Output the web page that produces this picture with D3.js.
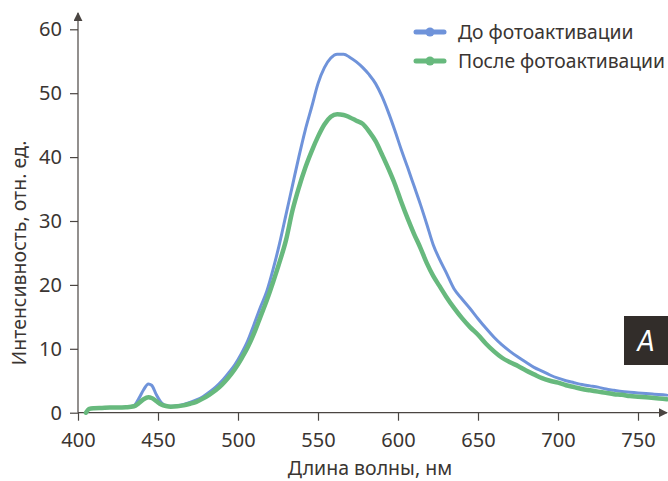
<!DOCTYPE html>
<html>
<head>
<meta charset="utf-8">
<script src="https://cdn.jsdelivr.net/npm/d3@7"></script>
<style>
  body { margin: 0; background: #fff; }
  #chart text { font-family: "Noto Sans", "Open Sans", sans-serif; fill: #3a3532; }
</style>
</head>
<body>
<div id="diagram"></div>
<script>
// wavelength, nm
var wavelengths = [405, 407, 410, 415, 420, 425, 430, 435, 438, 441, 444, 446, 449, 452, 455, 458,
  462, 466, 470, 474, 478, 482, 486, 490, 494, 498, 502, 506, 510, 514, 518, 522, 526, 530,
  534, 538, 542, 546, 550, 554, 558, 562, 566, 570, 574, 578, 582, 586, 590, 594, 598, 602,
  606, 610, 614, 618, 622, 626, 630, 635, 640, 645, 650, 655, 660, 665, 670, 675, 680, 685,
  690, 695, 700, 705, 710, 715, 720, 725, 730, 735, 740, 745, 750, 755, 760, 768];

var before = [0.0, 0.6, 0.7, 0.75, 0.8, 0.8, 0.85, 1.1, 2.2, 3.6, 4.5, 4.3, 2.8, 1.6, 1.1, 1.0,
  1.1, 1.3, 1.6, 2.0, 2.5, 3.2, 4.0, 5.0, 6.2, 7.5, 9.2, 11.2, 13.8, 16.5, 19.0, 22.5, 26.5, 31.0,
  35.5, 40.0, 44.2, 47.8, 51.5, 54.0, 55.5, 56.1, 56.1, 55.6, 54.9, 54.0, 52.9, 51.5, 49.5, 47.0, 44.2, 41.2,
  38.4, 35.5, 32.6, 29.5, 26.3, 24.0, 22.0, 19.4, 17.8, 16.3, 14.7, 13.2, 11.8, 10.6, 9.6, 8.7, 7.9, 7.1,
  6.5, 5.9, 5.4, 5.0, 4.7, 4.4, 4.2, 4.0, 3.7, 3.5, 3.3, 3.2, 3.1, 3.0, 2.9, 2.75];

var after = [0.0, 0.6, 0.7, 0.75, 0.8, 0.8, 0.85, 1.0, 1.5, 2.1, 2.4, 2.3, 1.8, 1.3, 1.05, 0.95,
  1.0, 1.15, 1.4, 1.7, 2.2, 2.8, 3.5, 4.4, 5.5, 6.8, 8.4, 10.2, 12.4, 15.0, 17.6, 20.5, 23.6, 27.0,
  31.6, 35.2, 38.3, 40.9, 43.2, 45.1, 46.3, 46.7, 46.6, 46.2, 45.7, 45.2, 44.0, 42.5, 40.4, 38.2, 35.8, 33.0,
  30.4, 28.0, 25.8, 23.4, 21.4, 19.8, 18.2, 16.4, 14.8, 13.4, 12.2, 10.8, 9.6, 8.6, 7.9, 7.3, 6.6, 6.0,
  5.4, 5.0, 4.7, 4.3, 4.0, 3.7, 3.5, 3.3, 3.1, 2.9, 2.8, 2.6, 2.5, 2.4, 2.3, 2.1];

var xTicks = [400, 450, 500, 550, 600, 650, 700, 750];
var yTicks = [0, 10, 20, 30, 40, 50, 60];
var seriesNames = ["До фотоактивации", "После фотоактивации"];
var seriesColors = ["#6f93da", "#67b97d"];
var seriesWidths = [3, 4.5];

function main() {
    var w = 668, h = 481;
    var axisColor = "#4a4542";

    var svg = d3.select("#diagram")
                .append("svg")
                .attr("id", "chart")
                .attr("width", w)
                .attr("height", h);

    var x = d3.scaleLinear().domain([400, 768.75]).range([78, 668]);
    var y = d3.scaleLinear().domain([0, 60]).range([412.7, 29.3]);

    var defs = svg.append("defs");
    defs.append("marker")
        .attr("id", "arrow")
        .attr("viewBox", "0 0 10 10")
        .attr("refX", 9).attr("refY", 5)
        .attr("markerWidth", 9).attr("markerHeight", 9)
        .attr("markerUnits", "userSpaceOnUse")
        .attr("orient", "auto")
      .append("path")
        .attr("d", "M0,0 L10,5 L0,10 z")
        .style("fill", axisColor);

    // axes
    var xAxis = svg.append("g")
        .attr("transform", "translate(0," + y(0) + ")")
        .call(d3.axisBottom(x).tickValues(xTicks).tickSize(8).tickSizeOuter(0).tickPadding(12));
    var yAxis = svg.append("g")
        .attr("transform", "translate(" + x(400) + ",0)")
        .call(d3.axisLeft(y).tickValues(yTicks).tickSize(8).tickSizeOuter(0).tickPadding(8));

    [xAxis, yAxis].forEach(function(a) {
        a.select(".domain").remove();
        a.selectAll("line").style("stroke", axisColor).style("stroke-width", 1.2);
        a.selectAll("text").style("font-size", "20px").style("font-family", null);
    });

    svg.append("line")
        .attr("x1", x(400)).attr("y1", y(0))
        .attr("x2", 667).attr("y2", y(0))
        .style("stroke", axisColor).style("stroke-width", 1.2)
        .attr("marker-end", "url(#arrow)");
    svg.append("line")
        .attr("x1", x(400)).attr("y1", y(0))
        .attr("x2", x(400)).attr("y2", 13)
        .style("stroke", axisColor).style("stroke-width", 1.2)
        .attr("marker-end", "url(#arrow)");

    // curves
    var line = d3.line()
        .x(function(d) { return x(d[0]); })
        .y(function(d) { return y(d[1]); })
        .curve(d3.curveMonotoneX);

    [before, after].forEach(function(vals, i) {
        var pts = wavelengths.map(function(wl, j) { return [wl, vals[j]]; });
        svg.append("path")
            .datum(pts)
            .attr("d", line)
            .style("fill", "none")
            .style("stroke", seriesColors[i])
            .style("stroke-width", seriesWidths[i])
            .style("stroke-linejoin", "round")
            .style("stroke-linecap", "round");
    });

    // axis titles
    svg.append("text")
        .attr("x", 370).attr("y", 475)
        .attr("text-anchor", "middle")
        .style("font-size", "19.5px")
        .text("Длина волны, нм");
    svg.append("text")
        .attr("transform", "translate(26,253) rotate(-90)")
        .attr("text-anchor", "middle")
        .style("font-size", "19.5px")
        .text("Интенсивность, отн. ед.");

    // legend
    var legend = svg.append("g");
    seriesNames.forEach(function(name, i) {
        var ly = 32 + i * 29;
        legend.append("line")
            .attr("x1", 416).attr("x2", 444).attr("y1", ly).attr("y2", ly)
            .style("stroke", seriesColors[i]).style("stroke-width", 5)
            .style("stroke-linecap", "round");
        legend.append("circle")
            .attr("cx", 430).attr("cy", ly).attr("r", 4.5)
            .style("fill", seriesColors[i]);
        legend.append("text")
            .attr("x", 458).attr("y", ly + 6.5)
            .style("font-size", "19.3px")
            .text(name);
    });

    // panel letter
    svg.append("rect")
        .attr("x", 624).attr("y", 316).attr("width", 50).attr("height", 49)
        .style("fill", "#322d2a");
    svg.append("text")
        .attr("x", 646).attr("y", 351)
        .attr("text-anchor", "middle")
        .style("font-size", "28px")
        .style("font-style", "italic")
        .style("font-family", "'Liberation Sans Narrow', 'DejaVu Sans Condensed', sans-serif")
        .style("fill", "#fff")
        .text("A");
}

main();
</script>
</body>
</html>
